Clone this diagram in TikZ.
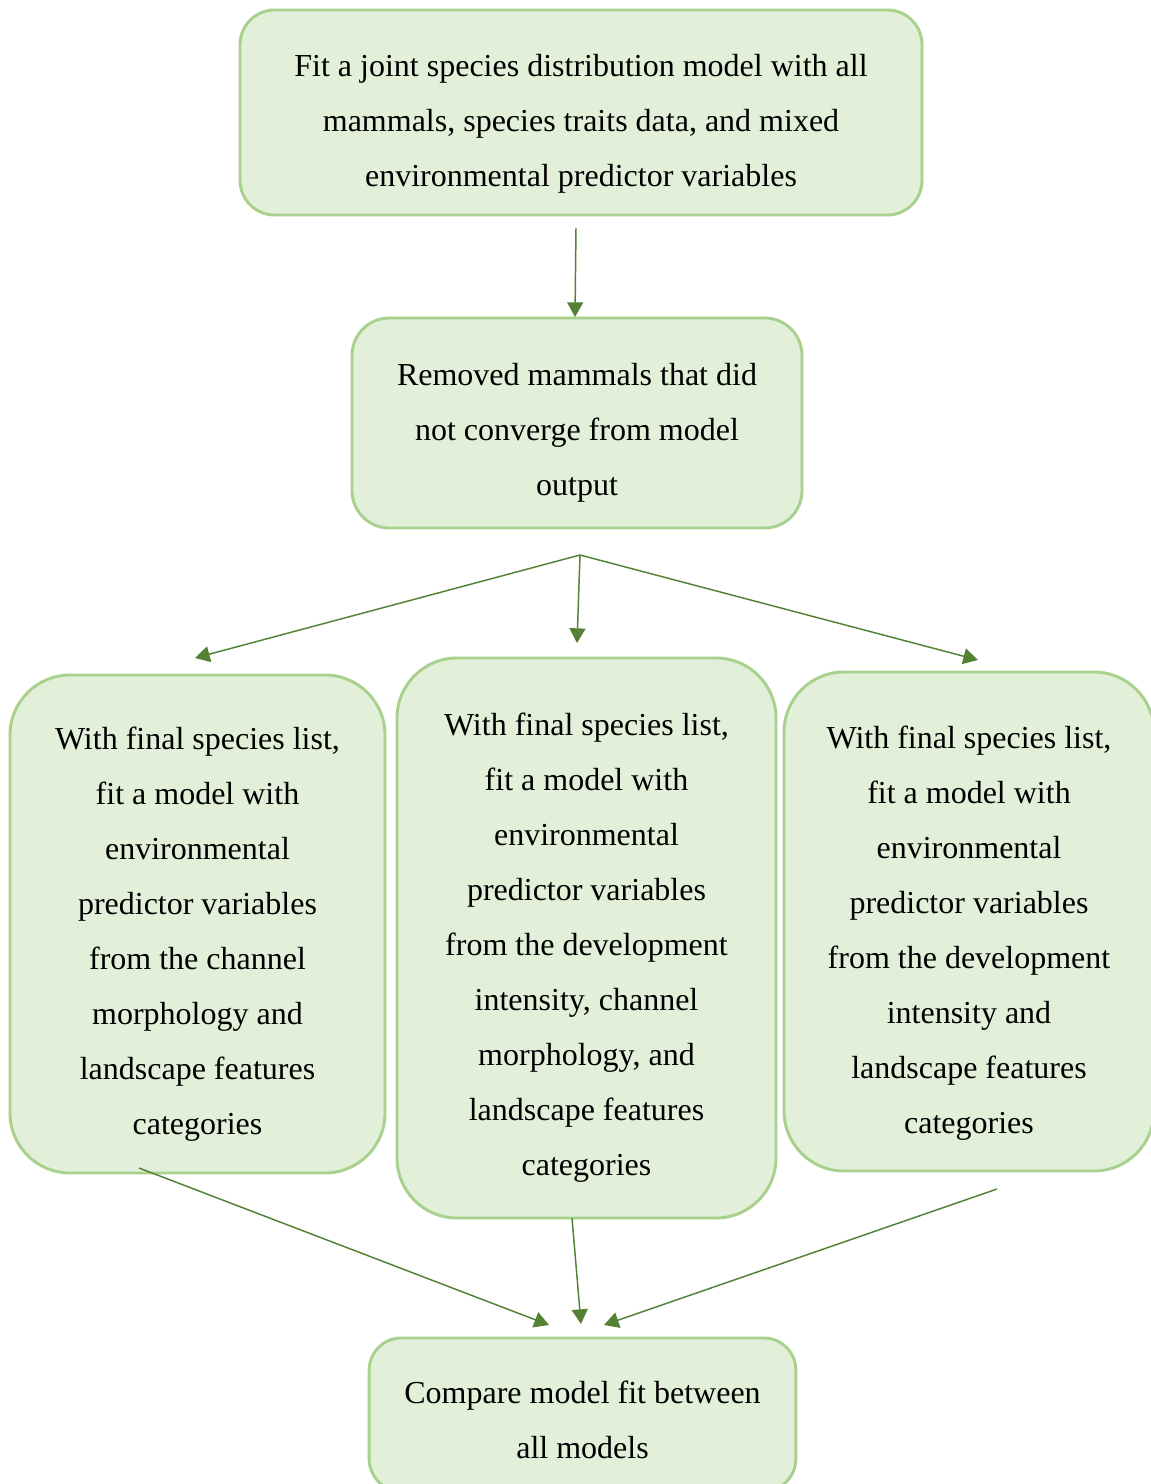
\documentclass[tikz,border=0pt]{standalone}
\usepackage{fontspec}
\setmainfont{Liberation Serif}
\usetikzlibrary{arrows.meta}
\definecolor{boxfill}{HTML}{E2EFD9}
\definecolor{boxline}{HTML}{A9D18E}
\definecolor{arrowcol}{HTML}{548235}
\newcommand{\lowerby}[1]{\rule{0pt}{#1}}
\tikzset{
  stepbox/.style={draw=boxline, fill=boxfill, line width=2.2pt, align=center,
    font=\fontsize{24}{41.25}\selectfont, inner sep=0pt},
  flow/.style={draw=arrowcol, line width=1.1pt, -{Triangle[length=11pt,width=12pt]}}
}
\begin{document}
\begin{tikzpicture}[x=0.75pt,y=-0.75pt]
\useasboundingbox (0,0) rectangle (1151,1484);
\clip (0,0) rectangle (1151,1484);
\fill[white] (0,0) rectangle (1151,1484);

\node[stepbox, rounded corners=26pt, minimum width=511.5pt, minimum height=153.75pt] (top) at (581,112.5)
  {\lowerby{34pt}Fit a joint species distribution model with all\\mammals, species traits data, and mixed\\environmental predictor variables};
\node[stepbox, rounded corners=28pt, minimum width=337.5pt, minimum height=157.5pt] (rem) at (577,423)
  {\lowerby{32pt}Removed mammals that did\\not converge from model\\output};
\node[stepbox, rounded corners=45pt, minimum width=281.25pt, minimum height=373.5pt] (left) at (197.5,924)
  {\lowerby{32pt}With final species list,\\fit a model with\\environmental\\predictor variables\\from the channel\\morphology and\\landscape features\\categories};
\node[stepbox, rounded corners=45pt, minimum width=284.25pt, minimum height=420pt] (mid) at (586.5,938)
  {\lowerby{31pt}With final species list,\\fit a model with\\environmental\\predictor variables\\from the development\\intensity, channel\\morphology, and\\landscape features\\categories};
\node[stepbox, rounded corners=45pt, minimum width=277.5pt, minimum height=374.25pt] (right) at (969,921.5)
  {\lowerby{34pt}With final species list,\\fit a model with\\environmental\\predictor variables\\from the development\\intensity and\\landscape features\\categories};
\node[stepbox, rounded corners=24pt, minimum width=320pt, minimum height=114.75pt] (cmp) at (582.5,1414.5)
  {\lowerby{24.5pt}Compare model fit between\\all models};

% connector ends
\coordinate (t1) at (576,228);
\coordinate (t2) at (575,317);
\coordinate (split) at (580,555);
\coordinate (eL) at (195,658);
\coordinate (eM) at (577,643);
\coordinate (eR) at (978,660);
\coordinate (sL) at (139,1168);
\coordinate (sM) at (572,1218);
\coordinate (sR) at (997,1189);
\coordinate (fL) at (549,1325);
\coordinate (fM) at (581,1324);
\coordinate (fR) at (604,1325);

\draw[flow] (t1) -- (t2);
\draw[flow] (split) -- (eL);
\draw[flow] (split) -- (eM);
\draw[flow] (split) -- (eR);
\draw[flow] (sL) -- (fL);
\draw[flow] (sM) -- (fM);
\draw[flow] (sR) -- (fR);
\end{tikzpicture}
\end{document}
